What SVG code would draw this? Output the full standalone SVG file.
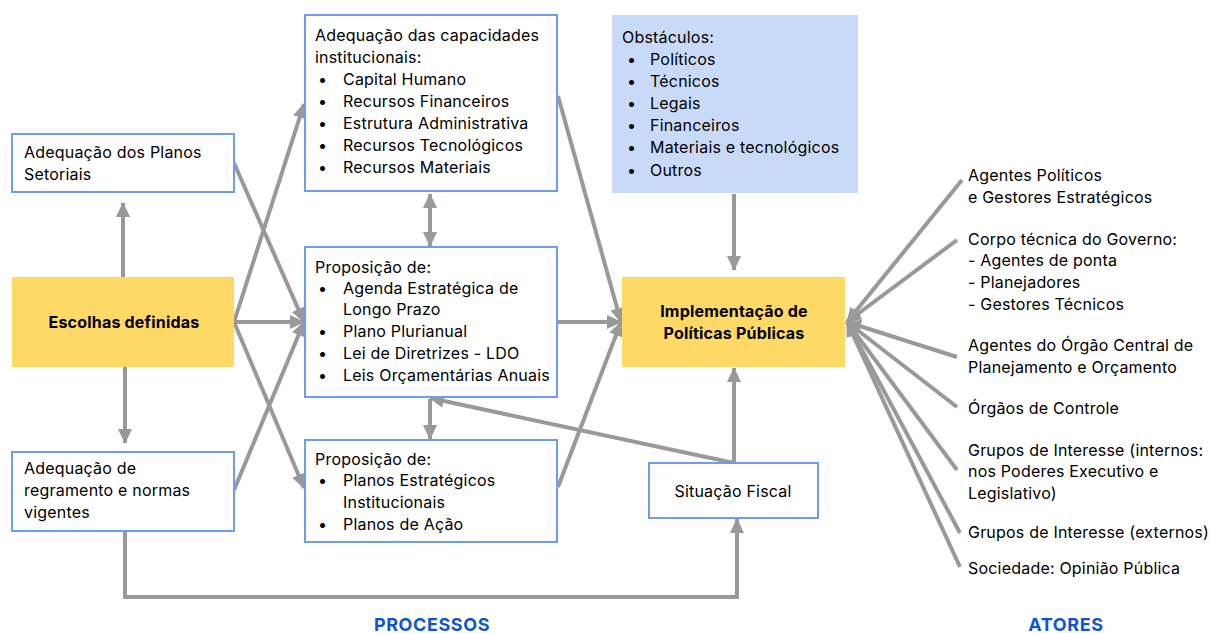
<svg xmlns="http://www.w3.org/2000/svg" width="1211" height="633" viewBox="0 0 1211 633">
<style>
text{font-family:"Inter","Noto Sans",sans-serif;font-size:16px;letter-spacing:0.2px;fill:#000}
.b{font-weight:bold}
.box{fill:#fff;stroke:#6d9eeb;stroke-width:2}
.yel{fill:#ffd966}
.obs{fill:#c9daf8}
.c{stroke:#999;stroke-width:4;fill:none}
.lbl{font-weight:bold;fill:#1155cc;font-size:18px;letter-spacing:0.6px}
</style>
<defs>
<marker id="a" markerUnits="userSpaceOnUse" markerWidth="16" markerHeight="16" viewBox="0 0 16 16" refX="14" refY="8" orient="auto-start-reverse">
<path d="M0,1 L15,8 L0,15 z" fill="#999"/>
</marker>
</defs>
<rect width="1211" height="633" fill="#fff"/>
<g id="connectors">
<path class="c" d="M123,277 V203" marker-end="url(#a)"/>
<path class="c" d="M125,367 V443" marker-end="url(#a)"/>
<path class="c" d="M234,322 H304" marker-end="url(#a)"/>
<path class="c" d="M234,163 L304,322" marker-end="url(#a)"/>
<path class="c" d="M234,490 L304,322" marker-end="url(#a)"/>
<path class="c" d="M234,322 L304,104" marker-end="url(#a)"/>
<path class="c" d="M234,322 L304,488" marker-end="url(#a)"/>
<path class="c" d="M558,96 L621,322" marker-end="url(#a)"/>
<path class="c" d="M558,322 H621" marker-end="url(#a)"/>
<path class="c" d="M558,487 L621,322" marker-end="url(#a)"/>
<path class="c" d="M430,194 V246" marker-start="url(#a)" marker-end="url(#a)"/>
<path class="c" d="M430,399 V439" marker-end="url(#a)"/>
<path class="c" d="M734,194 V270" marker-end="url(#a)"/>
<path class="c" d="M734,463 V368" marker-end="url(#a)"/>
<path class="c" d="M734,463 L430,398" marker-end="url(#a)"/>
<path class="c" d="M125,532 V597 H737 V519" marker-end="url(#a)"/>
<path class="c" d="M962,180 L847,322" marker-end="url(#a)"/>
<path class="c" d="M957,240 L847,322" marker-end="url(#a)"/>
<path class="c" d="M957,357 L847,322" marker-end="url(#a)"/>
<path class="c" d="M957,407 L847,322" marker-end="url(#a)"/>
<path class="c" d="M957,470 L847,322" marker-end="url(#a)"/>
<path class="c" d="M960,533 L847,322" marker-end="url(#a)"/>
<path class="c" d="M960,567 L847,322" marker-end="url(#a)"/>
</g>
<g id="planos-setoriais">
<rect class="box" x="12" y="134" width="222" height="58"/>
<text x="24" y="158">Adequação dos Planos</text>
<text x="24" y="180">Setoriais</text>
</g>
<g id="escolhas">
<rect class="yel" x="12" y="277" width="222" height="90"/>
<text class="b" x="124" y="328" text-anchor="middle">Escolhas definidas</text>
</g>
<g id="regramento">
<rect class="box" x="12" y="452" width="222" height="79"/>
<text x="24" y="474">Adequação de</text>
<text x="24" y="496">regramento e normas</text>
<text x="24" y="518">vigentes</text>
</g>
<g id="capacidades">
<rect class="box" x="305" y="15" width="252" height="176"/>
<text x="315" y="41">Adequação das capacidades</text>
<text x="315" y="63">institucionais:</text>
<text x="318" y="85">•</text><text x="343" y="85">Capital Humano</text>
<text x="318" y="107">•</text><text x="343" y="107">Recursos Financeiros</text>
<text x="318" y="129">•</text><text x="343" y="129">Estrutura Administrativa</text>
<text x="318" y="151">•</text><text x="343" y="151">Recursos Tecnológicos</text>
<text x="318" y="173">•</text><text x="343" y="173">Recursos Materiais</text>
</g>
<g id="proposicao1">
<rect class="box" x="305" y="247" width="252" height="150"/>
<text x="315" y="273">Proposição de:</text>
<text x="318" y="294">•</text><text x="343" y="294">Agenda Estratégica de</text>
<text x="343" y="315">Longo Prazo</text>
<text x="318" y="337">•</text><text x="343" y="337">Plano Plurianual</text>
<text x="318" y="359">•</text><text x="343" y="359">Lei de Diretrizes - LDO</text>
<text x="318" y="381">•</text><text x="343" y="381">Leis Orçamentárias Anuais</text>
</g>
<g id="proposicao2">
<rect class="box" x="305" y="440" width="252" height="102"/>
<text x="315" y="465">Proposição de:</text>
<text x="318" y="486">•</text><text x="343" y="486">Planos Estratégicos</text>
<text x="343" y="508">Institucionais</text>
<text x="318" y="530">•</text><text x="343" y="530">Planos de Ação</text>
</g>
<g id="obstaculos">
<rect class="obs" x="612" y="15" width="246" height="178"/>
<text x="622" y="43">Obstáculos:</text>
<text x="627" y="65">•</text><text x="650" y="65">Políticos</text>
<text x="627" y="87">•</text><text x="650" y="87">Técnicos</text>
<text x="627" y="109">•</text><text x="650" y="109">Legais</text>
<text x="627" y="131">•</text><text x="650" y="131">Financeiros</text>
<text x="627" y="153">•</text><text x="650" y="153">Materiais e tecnológicos</text>
<text x="627" y="176">•</text><text x="650" y="176">Outros</text>
</g>
<g id="implementacao">
<rect class="yel" x="622" y="277" width="223" height="90"/>
<text class="b" x="734" y="317" text-anchor="middle">Implementação de</text>
<text class="b" x="734" y="339" text-anchor="middle">Políticas Públicas</text>
</g>
<g id="situacao">
<rect class="box" x="649" y="463" width="169" height="55"/>
<text x="733" y="497" text-anchor="middle">Situação Fiscal</text>
</g>
<g id="atores">
<text x="968" y="181">Agentes Políticos</text>
<text x="968" y="203">e Gestores Estratégicos</text>
<text x="968" y="245">Corpo técnica do Governo:</text>
<text x="968" y="266">- Agentes de ponta</text>
<text x="968" y="288">- Planejadores</text>
<text x="968" y="310">- Gestores Técnicos</text>
<text x="968" y="351">Agentes do Órgão Central de</text>
<text x="968" y="373">Planejamento e Orçamento</text>
<text x="968" y="414">Órgãos de Controle</text>
<text x="968" y="456">Grupos de Interesse (internos:</text>
<text x="968" y="477">nos Poderes Executivo e</text>
<text x="968" y="499">Legislativo)</text>
<text x="968" y="538">Grupos de Interesse (externos)</text>
<text x="968" y="574">Sociedade: Opinião Pública</text>
</g>
<g id="labels">
<text class="lbl" x="432" y="631" text-anchor="middle">PROCESSOS</text>
<text class="lbl" x="1066" y="631" text-anchor="middle">ATORES</text>
</g>
</svg>
